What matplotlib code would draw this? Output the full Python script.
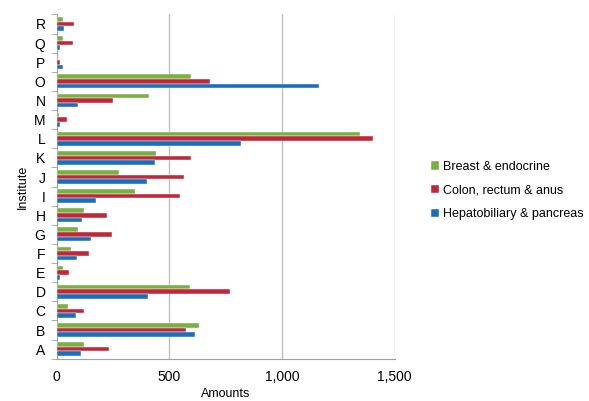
import numpy as np
import matplotlib.pyplot as plt

plt.rcParams['font.family'] = ['Liberation Sans', 'DejaVu Sans']

institutes = list("ABCDEFGHIJKLMNOPQR")
breast = [124, 632, 50, 594, 29, 66, 97, 124, 349, 275, 442, 1345, 12, 411, 597, 3, 29, 29]
colon = [233, 575, 121, 771, 56, 144, 245, 224, 548, 567, 595, 1404, 45, 252, 681, 15, 74, 77]
hepato = [107, 614, 88, 407, 16, 91, 152, 113, 177, 402, 436, 819, 15, 93, 1165, 28, 15, 32]

series = [
    ('Breast & endocrine', breast, '#78b043'),
    ('Colon, rectum & anus', colon, '#c0283a'),
    ('Hepatobiliary & pancreas', hepato, '#1a6fbb'),
]

fig = plt.figure(figsize=(5.89, 4.01), dpi=100)
ax = fig.add_axes([0.096, 0.1055, 0.574, 0.8585])

y = np.arange(len(institutes))
h = 0.24
offsets = [h, 0, -h]
for (name, vals, col), off in zip(series, offsets):
    ax.barh(y + off, vals, height=h, color=col, edgecolor='white', linewidth=0.3, label=name, zorder=3)

ax.set_xlim(0, 1500)
ax.set_ylim(-0.5, len(institutes) - 0.5)
ax.set_xticks([0, 500, 1000, 1500])
ax.set_xticklabels(['0', '500', '1,000', '1,500'])
ax.set_yticks(y)
ax.set_yticklabels(institutes)
ax.set_yticks(np.arange(len(institutes) + 1) - 0.5, minor=True)
ax.tick_params(axis='y', which='major', length=0, labelsize=10, pad=8)
ax.tick_params(axis='y', which='minor', length=4, color='#a0a0a0')
ax.tick_params(axis='x', length=0, labelsize=10, pad=8)
ax.grid(axis='x', color='#c0c0c0', linewidth=1, zorder=0)

for s in ['top', 'right']:
    ax.spines[s].set_visible(False)
for s in ['left', 'bottom']:
    ax.spines[s].set_color('#a0a0a0')

ax.set_xlabel('Amounts', fontsize=9, labelpad=3)
ax.set_ylabel('Institute', fontsize=9, labelpad=4)

handles, labels = ax.get_legend_handles_labels()
fig.legend(handles, labels, loc='center left', bbox_to_anchor=(0.712, 0.525),
           frameon=False, fontsize=9, handlelength=0.7, handleheight=0.7,
           handletextpad=0.3, labelspacing=0.95)

fig.savefig('out.png', dpi=100)
